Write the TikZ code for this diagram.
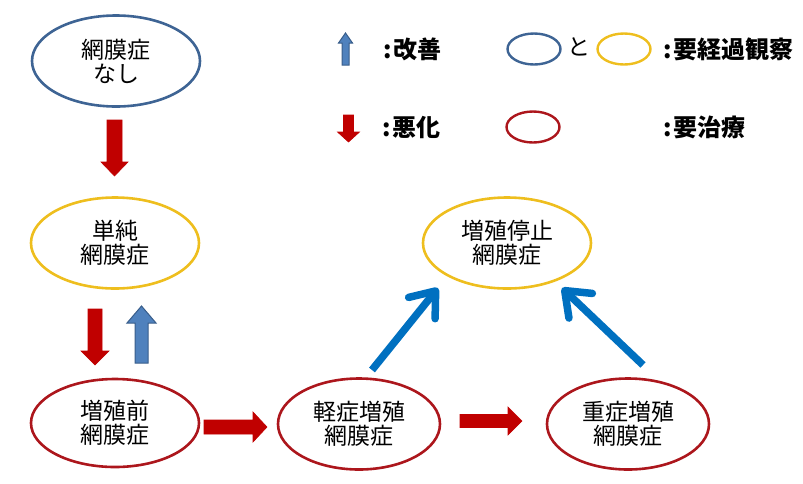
\documentclass[tikz,border=0pt]{standalone}
\usepackage{fontspec}
\newfontfamily\cjk{Noto Sans CJK JP}
\usetikzlibrary{shapes.geometric,arrows.meta}
\definecolor{cblue}{RGB}{62,100,148}
\definecolor{cyellow}{RGB}{238,190,30}
\definecolor{cred}{RGB}{172,22,28}
\definecolor{carrred}{RGB}{192,0,0}
\definecolor{carrblue}{RGB}{79,129,189}
\definecolor{carrblueb}{RGB}{56,93,138}
\definecolor{cthin}{RGB}{0,112,192}
\newcommand\blkv[7]{%
  \filldraw[#1] (#2-#4,#3) -- (#2+#4,#3) -- (#2+#4,#6) -- (#2+#5,#6) -- (#2,#7) -- (#2-#5,#6) -- (#2-#4,#6) -- cycle;}
\newcommand\blkh[7]{%
  \filldraw[#1] (#3,#2-#4) -- (#3,#2+#4) -- (#6,#2+#4) -- (#6,#2+#5) -- (#7,#2) -- (#6,#2-#5) -- (#6,#2-#4) -- cycle;}
\tikzset{
  ell/.style={ellipse, line width=2.6pt, align=center, inner sep=0pt,
    font=\cjk\fontsize{23}{24}\selectfont},
  bigell/.style={ell, minimum width=168pt, minimum height=91pt},
  legell/.style={ellipse, line width=2.4pt, minimum width=53pt, minimum height=31pt, inner sep=0pt},
  legtxt/.style={anchor=west, inner sep=0pt, font=\cjk\bfseries\fontsize{24}{26}\selectfont},
  redarr/.style={fill=carrred, draw=carrred, line width=0.6pt},
  bluearr/.style={fill=carrblue, draw=carrblueb, line width=1pt},
  thinarr/.style={draw=cthin, line width=7.5pt, -{Straight Barb[length=22pt,width=34pt,round]}}
}
\begin{document}
\begin{tikzpicture}[x=1pt,y=-1pt]
\useasboundingbox (0,0) rectangle (803,483);
% main ellipses
\node[bigell, draw=cblue] (nashi) at (116,61) {網膜症\\なし};
\node[bigell, draw=cyellow] (tanjun) at (115,243) {単純\\網膜症};
\node[bigell, draw=cred, minimum height=88pt] (zen) at (115,423) {増殖前\\網膜症};
\node[bigell, draw=cred, minimum width=162pt] (kei) at (359,424) {軽症増殖\\網膜症};
\node[bigell, draw=cred, minimum width=162pt] (ju) at (628,424) {重症増殖\\網膜症};
\node[bigell, draw=cyellow] (teishi) at (507,243) {増殖停止\\網膜症};
% legend
\node[legell, draw=cblue] (lb) at (534,49) {};
\node[legell, draw=cyellow] (ly) at (624,49) {};
\node[legell, draw=cred] (lr) at (533,127) {};
\node[legtxt] (t1) at (383,49) {:\hspace{2pt}改善};
\node[legtxt] (t2) at (382,127) {:\hspace{2pt}悪化};
\node[anchor=west, inner sep=0pt, font=\cjk\fontsize{23}{25}\selectfont] (t3) at (567,47) {と};
\node[legtxt] (t4) at (663,49) {:\hspace{2pt}要経過観察};
\node[legtxt] (t5) at (663,127) {:\hspace{2pt}要治療};
% block arrows
\blkv{redarr}{114.5}{120}{7.5}{13.5}{162}{176}
\blkv{redarr}{95}{309}{7}{14}{351}{365}
\blkv{bluearr}{141.5}{363}{6.5}{14.5}{323}{306}
\blkh{redarr}{427}{204}{7}{15}{253}{267}
\blkh{redarr}{421}{460}{6.5}{14}{508}{522}
\blkv{bluearr}{345.5}{65}{3.5}{7}{43}{33}
\blkv{redarr}{348.5}{115}{5}{11}{132}{142}
% thin blue arrows
\coordinate (s1) at (372,370);
\coordinate (e1) at (438,288);
\coordinate (s2) at (643,365);
\coordinate (e2) at (562,288);
\draw[thinarr] (s1) -- (e1);
\draw[thinarr] (s2) -- (e2);
\end{tikzpicture}
\end{document}
